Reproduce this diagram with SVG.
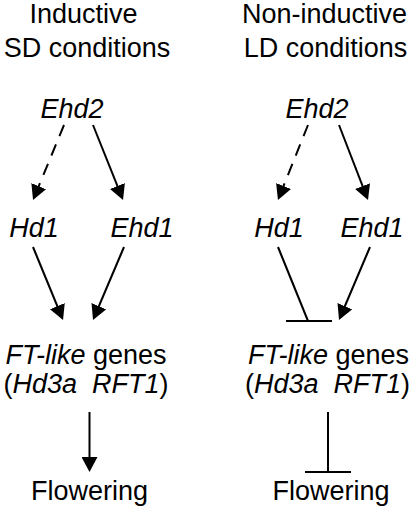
<svg xmlns="http://www.w3.org/2000/svg" width="415" height="511" viewBox="0 0 415 511">
<style>
text{font-family:"Liberation Sans",Arial,sans-serif;font-size:27px;fill:#000;text-anchor:middle}
.i{font-style:italic}
.ln{stroke:#000;stroke-width:2;fill:none}
.ar{marker-end:url(#ah)}
.da{stroke-dasharray:12 9}
</style>
<defs>
<marker id="ah" markerUnits="userSpaceOnUse" markerWidth="16" markerHeight="16" refX="2" refY="8" orient="auto">
<path d="M0,0 L15,8 L0,16 Z" fill="#000"/>
</marker>
</defs>
<rect width="415" height="511" fill="#fff"/>
<g id="title-sd"><text x="83.5" y="23">Inductive</text><text x="87" y="57">SD conditions</text></g>
<g id="title-ld"><text x="324.5" y="23">Non-inductive</text><text x="325.5" y="57">LD conditions</text></g>
<g id="ehd2-sd"><text class="i" x="72" y="118">Ehd2</text></g>
<g id="ehd2-ld"><text class="i" x="317" y="118">Ehd2</text></g>
<g id="hd1-sd"><text class="i" x="34" y="237">Hd1</text></g>
<g id="ehd1-sd"><text class="i" x="142" y="237">Ehd1</text></g>
<g id="hd1-ld"><text class="i" x="279" y="237">Hd1</text></g>
<g id="ehd1-ld"><text class="i" x="372" y="237">Ehd1</text></g>
<g id="ft-sd"><text x="86" y="364"><tspan class="i">FT-like</tspan> genes</text><text x="86" y="393" xml:space="preserve">(<tspan class="i">Hd3a  RFT1</tspan>)</text></g>
<g id="ft-ld"><text x="328.5" y="364"><tspan class="i">FT-like</tspan> genes</text><text x="327.5" y="393" xml:space="preserve">(<tspan class="i">Hd3a  RFT1</tspan>)</text></g>
<g id="flowering-sd"><text x="89.5" y="500">Flowering</text></g>
<g id="flowering-ld"><text x="331" y="500">Flowering</text></g>
<g id="connectors">
<line class="ln ar da" x1="64" y1="125" x2="38" y2="188"/>
<line class="ln ar" x1="93" y1="125" x2="118.2" y2="187.9"/>
<line class="ln ar da" x1="308" y1="125" x2="282.8" y2="187.9"/>
<line class="ln ar" x1="339" y1="125" x2="363.3" y2="187.9"/>
<line class="ln ar" x1="33" y1="247" x2="58.1" y2="308"/>
<line class="ln ar" x1="124" y1="247" x2="98.1" y2="308"/>
<line class="ln" x1="278" y1="247" x2="308" y2="321"/>
<line class="ln" x1="286" y1="321" x2="332" y2="321"/>
<line class="ln ar" x1="370" y1="247" x2="344.1" y2="308"/>
<line class="ln ar" x1="89.5" y1="412" x2="89.5" y2="459"/>
<line class="ln" x1="328" y1="412" x2="328" y2="472"/>
<line class="ln" x1="305" y1="472" x2="351" y2="472"/>
</g>
</svg>
